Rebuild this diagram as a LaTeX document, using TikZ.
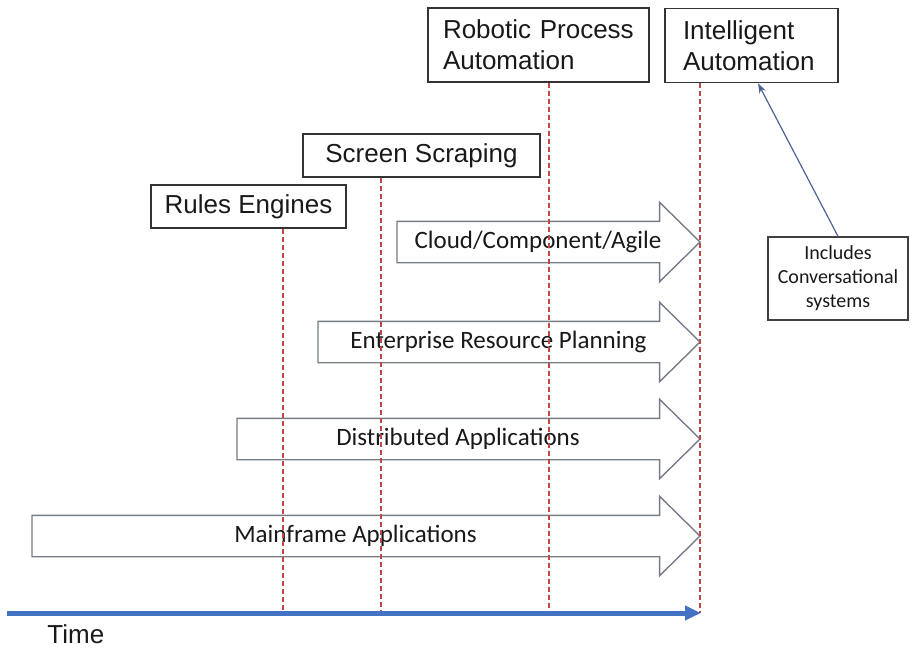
\documentclass[tikz,border=0pt]{standalone}
\usepackage{fontspec}
\setmainfont{Liberation Sans}
\newfontfamily\calibrifont{Carlito}
\usetikzlibrary{positioning,shapes.arrows,arrows.meta}
\definecolor{timeblue}{RGB}{68,114,196}
\definecolor{markred}{RGB}{188,72,72}
\definecolor{stagegrey}{RGB}{118,124,136}
\definecolor{noteblue}{RGB}{78,98,148}

\begin{document}
\begin{tikzpicture}[
    x=0.5pt, y=-0.5pt,
    era/.style={rectangle, draw=black!80, line width=0.8pt, text=black!90, font=\fontsize{13}{15.5}\selectfont, inner sep=0pt},
    stage/.style={single arrow, draw=stagegrey, fill=white, line width=0.7pt, single arrow head extend=9.5pt, single arrow tip angle=89, text height=9pt, text depth=3pt, inner ysep=4pt, anchor=tip, text=black!90, font=\calibrifont\fontsize{12.5}{15}\selectfont},
    marker/.style={draw=markred, line width=0.55pt, dash pattern=on 2.5pt off 1.5pt},
    note/.style={rectangle, draw=black!75, line width=0.7pt, align=center, minimum width=70pt, minimum height=41.5pt, text=black!90, font=\calibrifont\fontsize{10}{12}\selectfont},
    timeline/.style={draw=timeblue, line width=2.5pt, -{Triangle[length=8pt,width=7pt]}},
    pointer/.style={draw=noteblue, line width=0.6pt, -{Stealth[length=5pt,width=3.5pt]}}
]
    \useasboundingbox (0,0) rectangle (916,648);

    % technology labels along the top
    \node [era, minimum width=97.5pt, minimum height=21.5pt] (rules) at (248.5,206.5) {Rules Engines};
    \node [era, minimum width=118.5pt, minimum height=21.5pt] (scraping) at (421.5,155.5) {Screen Scraping};
    \node [era, minimum height=37pt, text width=95.5pt, inner xsep=7.5pt, align=left] (rpa) at (538.5,45) {Robotic Process\\Automation};
    \node [era, minimum height=37pt, text width=68.5pt, inner xsep=9pt, align=left] (ia) at (751.5,45.5) {Intelligent\\Automation};
    \node [note] (convo) at (838,278.5) {Includes\\Conversational\\systems};

    % application eras
    \node [stage, minimum height=151.5pt] (cloud) at (701,242) {Cloud/Component/Agile};
    \node [stage, minimum height=191pt] (erp) at (701,342) {Enterprise Resource Planning};
    \node [stage, minimum height=231.5pt] (distributed) at (701,439) {Distributed Applications};
    \node [stage, minimum height=334pt] (mainframe) at (701,536) {Mainframe Applications};

    % time axis
    \coordinate (t0) at (7,613);
    \coordinate (tend) at (701,613);
    \coordinate (mrules) at (283,613);
    \coordinate (mscraping) at (381,613);
    \coordinate (mrpa) at (549,613);
    \coordinate (mia) at (700,613);

    \path [marker] (mrules |- rules.south) -- (mrules);
    \path [marker] (mscraping |- scraping.south) -- (mscraping);
    \path [marker] (mrpa |- rpa.south) -- (mrpa);
    \path [marker] (mia |- ia.south) -- (mia);

    \path [timeline] (t0) -- (tend);
    \node [anchor=base west, inner sep=0pt, text=black!90, font=\fontsize{13}{15.5}\selectfont] (time) at (47,643) {Time};

    \path [pointer] (convo.north) -- ([xshift=3.25pt]ia.south);
\end{tikzpicture}
\end{document}
